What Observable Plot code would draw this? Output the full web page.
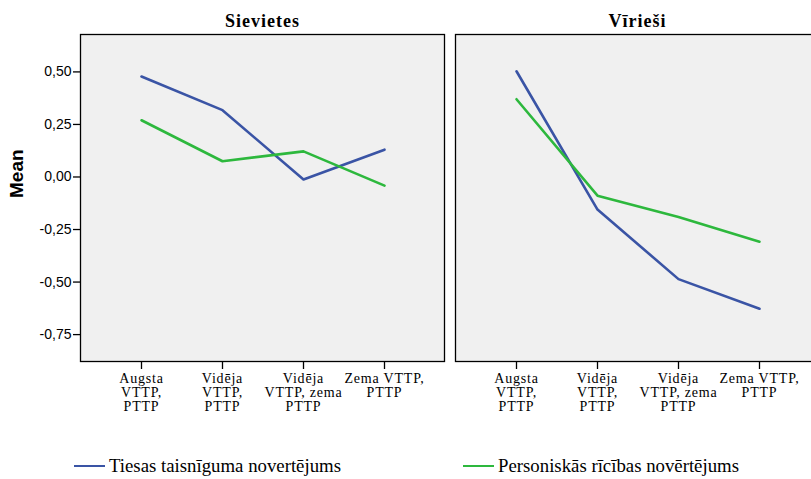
<!DOCTYPE html>
<html>
<head>
<meta charset="utf-8">
<script src="https://cdn.jsdelivr.net/npm/d3@7"></script>
<script src="https://cdn.jsdelivr.net/npm/@observablehq/plot@0.6"></script>
<style>
  html, body { margin: 0; padding: 0; background: #fff; overflow: hidden; }
  #wrap { position: relative; width: 811px; height: 479px; overflow: hidden; }
  #chart { width: 820px; }
  #chart svg { display: block; max-width: none !important; }
  [aria-label="x-axis tick label"] text { letter-spacing: 0.8px; }
  [aria-label="fx-axis tick label"] text { letter-spacing: 1px; }
  .leg { position: absolute; top: 454px; height: 24px; display: flex; align-items: center;
         font-family: "Liberation Serif", "Times New Roman", serif; font-size: 18.8px; color: #000; white-space: nowrap; }
  .leg .sw { display: inline-block; width: 31px; height: 2.5px; margin-right: 4px; }
</style>
</head>
<body>
<div id="wrap">
  <div id="chart"></div>
  <div class="leg" style="left:74px"><span class="sw" style="background:#3a54a5"></span><span id="l0"></span></div>
  <div class="leg" style="left:463px"><span class="sw" style="background:#2db83d"></span><span id="l1"></span></div>
</div>
<script>
const panels = ["Sievietes", "Vīrieši"];
const categories = ["Augsta\nVTTP,\nPTTP", "Vidēja\nVTTP,\nPTTP", "Vidēja\nVTTP, zema\nPTTP", "Zema VTTP,\nPTTP"];
const seriesNames = ["Tiesas taisnīguma novertējums", "Personiskās rīcības novērtējums"];
const seriesColors = ["#3a54a5", "#2db83d"];
const yTicks = [-0.75, -0.5, -0.25, 0, 0.25, 0.5];

const tiesasSievietes = [0.478, 0.318, -0.012, 0.130];
const personiskasSievietes = [0.270, 0.075, 0.122, -0.041];
const tiesasVirieSi = [0.503, -0.155, -0.486, -0.627];
const personiskasVirieSi = [0.370, -0.089, -0.190, -0.308];

const seriesValues = [
  [panels[0], seriesNames[0], tiesasSievietes],
  [panels[0], seriesNames[1], personiskasSievietes],
  [panels[1], seriesNames[0], tiesasVirieSi],
  [panels[1], seriesNames[1], personiskasVirieSi]
];
const data = seriesValues.flatMap(([panel, series, vals]) =>
  vals.map((v, i) => ({panel, series, cat: categories[i], value: v})));

document.getElementById("l0").textContent = seriesNames[0];
document.getElementById("l1").textContent = seriesNames[1];

const chart = Plot.plot({
  width: 820,
  height: 420,
  marginLeft: 80,
  marginRight: 1,
  marginTop: 34,
  marginBottom: 59,
  style: {maxWidth: "none"},
  fx: {domain: panels, paddingInner: 11 / 375, paddingOuter: 0},
  x: {type: "point", domain: categories, padding: 0.73},
  y: {domain: [-0.878, 0.678]},
  color: {domain: seriesNames, range: seriesColors},
  marks: [
    Plot.frame({fill: "#f0f0f0"}),
    Plot.line(data, {x: "cat", y: "value", fx: "panel", stroke: "series", strokeWidth: 2.6}),
    Plot.frame({stroke: "#000", strokeWidth: 1.3}),
    Plot.axisFx({anchor: "top", tickSize: 0, tickPadding: 8, label: null,
      fontSize: 18, fontWeight: "bold", fontFamily: "Liberation Serif"}),
    Plot.axisX({tickSize: 8, tickPadding: 4, label: null, fontSize: 14,
      fontFamily: "Liberation Serif", lineHeight: 1, stroke: "#000", strokeWidth: 1.3}),
    Plot.axisY({ticks: yTicks, tickFormat: d => d.toFixed(2).replace(".", ","),
      tickSize: 7, tickPadding: 2, label: null, fontSize: 14, fontFamily: "Liberation Sans",
      stroke: "#000", strokeWidth: 1.3}),
    Plot.text([{panel: panels[0]}], {fx: "panel", text: () => "Mean", frameAnchor: "left",
      dx: -64, rotate: -90, fontSize: 19, fontWeight: "bold", fontFamily: "Liberation Sans", fill: "#000"})
  ]
});
document.getElementById("chart").appendChild(chart);
</script>
</body>
</html>
